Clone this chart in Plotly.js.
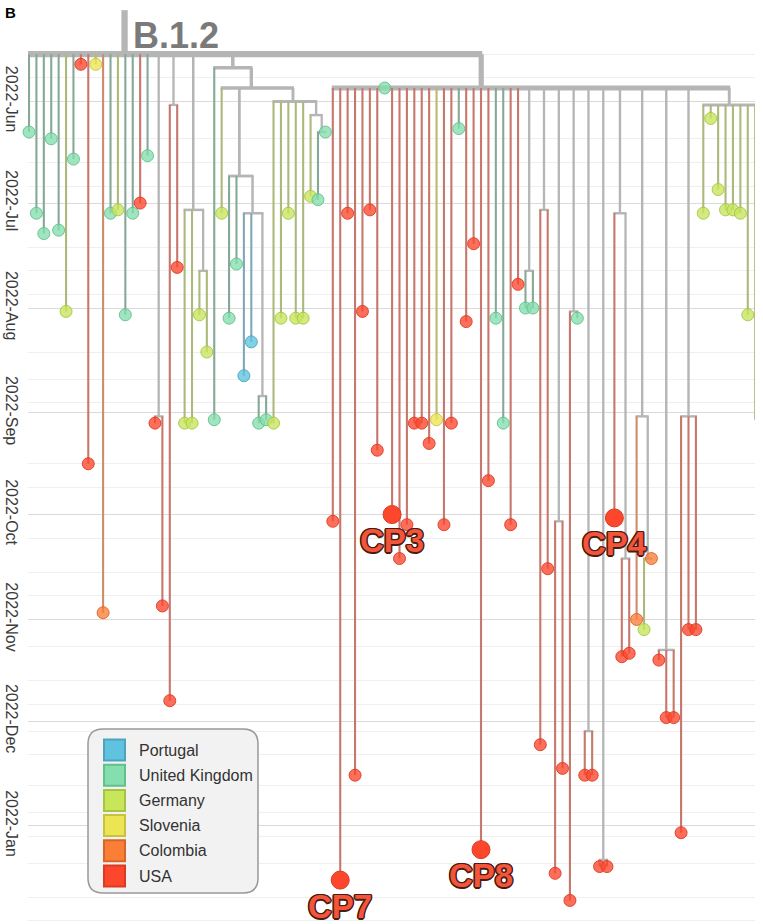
<!DOCTYPE html>
<html><head><meta charset="utf-8">
<script src="https://cdn.plot.ly/plotly-3.0.1.min.js"></script>
<style>html,body{margin:0;padding:0;background:#fff}#chart{width:763px;height:924px}</style>
</head><body><div id="chart"></div>
<script>
// ---------------- data ----------------
const countries     = ['Portugal','United Kingdom','Germany','Slovenia','Colombia','USA'];
const countryCodes  = ['PT','UK','DE','SI','CO','US'];
const countryColors = ['#5fc3df','#84dead','#c7e65a','#ece553','#fb7e37','#fc472d'];
const countryEdge   = ['#4ea3bf','#62c08c','#a6c544','#c9c23f','#d9642a','#db3a22'];
const countryBranch = ['#7fa8b8','#86a997','#abb97b','#bdb96c','#cf8b6e','#c7776b'];

const tipDates = [
 '2022-06-10','2022-07-04','2022-07-10','2022-06-12','2022-07-09','2022-08-02','2022-06-18','2022-05-21','2022-09-16','2022-05-21',
 '2022-10-30','2022-07-04','2022-07-03','2022-08-03','2022-07-04','2022-07-01','2022-06-17','2022-09-04','2022-10-28','2022-11-25',
 '2022-07-20','2022-09-04','2022-09-04','2022-08-03','2022-08-14','2022-09-03','2022-07-04','2022-08-04','2022-07-19','2022-08-21',
 '2022-08-11','2022-09-04','2022-09-03','2022-09-04','2022-08-04','2022-07-04','2022-08-04','2022-08-04','2022-06-29','2022-06-30',
 '2022-06-10','2022-10-03','2023-01-17','2022-07-04','2022-12-17','2022-08-02','2022-07-03','2022-09-12','2022-05-28','2022-10-01',
 '2022-10-14','2022-10-04','2022-09-04','2022-09-04','2022-09-10','2022-09-03','2022-10-04','2022-09-04','2022-06-09','2022-08-05',
 '2022-07-13','2023-01-08','2022-09-21','2022-08-04','2022-09-04','2022-10-04','2022-07-25','2022-08-01','2022-08-01','2022-12-08',
 '2022-10-17','2023-01-15','2022-12-15','2023-01-23','2022-08-04','2022-12-17','2022-12-17','2023-01-13','2023-01-13','2022-10-02',
 '2022-11-12','2022-11-11','2022-11-01','2022-11-04','2022-10-14','2022-11-13','2022-11-30','2022-11-30','2023-01-03','2022-11-04',
 '2022-11-04','2022-07-04','2022-06-06','2022-06-27','2022-07-03','2022-07-03','2022-07-04','2022-08-03','2022-09-03'
];
const tipCountry = [
 'UK','UK','UK','UK','UK','DE','UK','US','US','SI',
 'CO','UK','DE','UK','UK','US','UK','US','US','US',
 'US','DE','DE','DE','DE','UK','DE','UK','UK','PT',
 'PT','UK','UK','DE','DE','DE','DE','DE','DE','UK',
 'UK','US','US','US','US','US','US','US','UK','US',
 'US','US','US','US','US','SI','US','US','UK','US',
 'US','US','US','UK','UK','US','US','UK','UK','US',
 'US','US','US','US','UK','US','US','US','US','US',
 'US','US','CO','DE','CO','US','US','US','US','US',
 'US','DE','DE','DE','DE','DE','DE','DE','DE'
];

// tree topology (leaf labels = index into tip arrays)
const treeNewick = "(0,1,2,3,4,5,6,7,8,9,10,11,12,13,14,15,16,(17,18)N1,(19,20)N2,(21,22,(23,24)N4)N3," +
 "(25,(26,(27,28,(29,30,(31,32)F)E)G,(33,34,35,36,37,(38,(39,40)Bn)A)C)D)H," +
 "(41,42,43,44,45,46,47,48,49,50,51,52,53,54,55,56,57,58,59,60,61,62,63,64,65,66," +
 "(67,68)P1,(69,70)P2,(71,72)P3,(73,74)P4,(75,76)P5,(77,78)P6,(79,(80,81)P8)P7,(82,(83,84)P10)P9," +
 "(85,86,87)P11,(88,89,90)P12,(91,92,93,94,95,96,97,98)GER)K)R;";
const nodeDates = {
 R:'2022-05-18', N1:'2022-09-02', N2:'2022-06-02', N3:'2022-07-03', N4:'2022-07-21',
 H:'2022-05-22', D:'2022-05-28', G:'2022-06-23', E:'2022-07-04', F:'2022-08-27',
 C:'2022-06-01', A:'2022-06-05', Bn:'2022-06-10', K:'2022-05-28',
 P1:'2022-07-21', P2:'2022-07-03', P3:'2022-10-03', P4:'2022-08-02', P5:'2022-12-04',
 P6:'2023-01-11', P7:'2022-07-04', P8:'2022-10-14', P9:'2022-09-02', P10:'2022-10-14',
 P11:'2022-11-10', P12:'2022-09-02', GER:'2022-06-02'
};
const rootStemTop = '2022-05-05';
const cladeLabel = 'B.1.2';

const cpTips   = [49, 79, 42, 61];
const cpLabels = ['CP3','CP4','CP7','CP8'];

const monthTicks  = ['2022-06-01','2022-07-01','2022-08-01','2022-09-01','2022-10-01','2022-11-01','2022-12-01','2023-01-01'];
const monthLabels = ['2022-Jun','2022-Jul','2022-Aug','2022-Sep','2022-Oct','2022-Nov','2022-Dec','2022-Jan'];
const minorTicks  = ['2022-05-18','2022-05-25','2022-06-12','2022-06-19','2022-06-26','2022-07-14','2022-07-21','2022-07-28',
 '2022-08-14','2022-08-22','2022-08-29','2022-09-16','2022-09-23','2022-10-08','2022-10-18','2022-10-25',
 '2022-11-09','2022-11-19','2022-11-26','2022-12-04','2022-12-11','2022-12-20','2022-12-28',
 '2023-01-04','2023-01-12','2023-01-22','2023-01-29'];

// ---------------- build ----------------
function parseNewick(s){
  let i = 0;
  function node(){
    const n = {children: []};
    if (s[i] === '('){
      i++;
      n.children.push(node());
      while (s[i] === ','){ i++; n.children.push(node()); }
      i++;
    }
    let name = '';
    while (i < s.length && !',();'.includes(s[i])) name += s[i++];
    n.name = name;
    return n;
  }
  return node();
}
const root = parseNewick(treeNewick);
let leafCounter = 0;
function layout(n, parent){
  n.parent = parent;
  if (!n.children.length){
    n.tip = +n.name; n.x = leafCounter++; n.date = tipDates[n.tip];
    n.ct = countryCodes.indexOf(tipCountry[n.tip]); n.nTips = 1;
  } else {
    n.children.forEach(c => layout(c, n));
    n.x = n.children.reduce((a,c)=>a+c.x,0)/n.children.length;
    n.date = nodeDates[n.name];
    n.nTips = n.children.reduce((a,c)=>a+c.nTips,0);
  }
}
layout(root, null);
const all = [];
(function walk(n){ all.push(n); n.children.forEach(walk); })(root);

const GRAY = '#b5b5b5';
const widthOf = n => Math.round((1.6 + 0.47*Math.sqrt(n.nTips))*10)/10;
const groups = {};
function seg(color, width, x0, y0, x1, y1){
  const k = color + '|' + width;
  if (!groups[k]) groups[k] = {color, width, x: [], y: [], order: color===GRAY?0:1};
  groups[k].x.push(x0, x1, null); groups[k].y.push(y0, y1, null);
}
all.forEach(n => {
  const col = n.children.length ? GRAY : countryBranch[n.ct];
  const w = widthOf(n);
  const top = n.parent ? n.parent.date : rootStemTop;
  seg(col, w, n.x, top, n.x, n.date);
  if (n.children.length){
    const a = n.children[0], b = n.children[n.children.length-1];
    const ext = 0.14;
    seg(GRAY, w, a.x - ext, n.date, b.x + ext, n.date);
  }
});
const traces = Object.values(groups).sort((a,b)=>a.order-b.order).map(g => ({
  type:'scatter', mode:'lines', x:g.x, y:g.y, line:{color:g.color, width:g.width},
  hoverinfo:'skip', showlegend:false, cliponaxis:false
}));

function rgba(hex, a){
  const v = parseInt(hex.slice(1),16);
  return `rgba(${v>>16&255},${v>>8&255},${v&255},${a})`;
}
const tips = all.filter(n => !n.children.length);
const small = tips.filter(n => !cpTips.includes(n.tip));
traces.push({
  type:'scatter', mode:'markers', x: small.map(n=>n.x), y: small.map(n=>n.date),
  marker:{size:12, color: small.map(n=>rgba(countryColors[n.ct],0.78)),
          line:{width:1, color: small.map(n=>rgba(countryEdge[n.ct],0.9))}},
  hoverinfo:'skip', showlegend:false, cliponaxis:false
});
const cps = cpTips.map(t => tips.find(n => n.tip === t));
traces.push({
  type:'scatter', mode:'markers', x: cps.map(n=>n.x), y: cps.map(n=>n.date),
  marker:{size:18, color: cps.map(n=>countryColors[n.ct]), line:{width:1, color: cps.map(n=>countryEdge[n.ct])}},
  hoverinfo:'skip', showlegend:false, cliponaxis:false
});

// pixel geometry of the plotting area
const L = 28, R = 8, T = 0, B = 0, WIDTH = 763, HEIGHT = 924;
const PW = WIDTH - L - R, PH = HEIGHT - T - B;
const STEP = 7.41;
const xmin = -1/STEP, xmax = xmin + PW/STEP;
const px = v => (v - L)/PW, py = v => 1 - (v - T)/PH;

const FONT = 'Liberation Sans, Arial, Helvetica, sans-serif';
const annotations = [];
const shapes = [];
const outline = c => `1.5px 0 0 ${c}, -1.5px 0 0 ${c}, 0 1.5px 0 ${c}, 0 -1.5px 0 ${c}, 1px 1px 0 ${c}, -1px -1px 0 ${c}, 1px -1px 0 ${c}, -1px 1px 0 ${c}`;
cps.forEach((n,i) => annotations.push({
  x:n.x, y:n.date, xref:'x', yref:'y', text:cpLabels[i], showarrow:false,
  xanchor:'center', yanchor:'middle', yshift:-26,
  font:{family:FONT, size:33, weight:'bold', color:'#f2553a', shadow: outline('#4a1c12')}
}));
annotations.push({
  x:root.x, y:root.date, xref:'x', yref:'y', text:cladeLabel, showarrow:false,
  xanchor:'left', yanchor:'bottom', xshift:6, yshift:-4,
  font:{family:FONT, size:36, weight:'bold', color:'#7a7a7a'}
});
annotations.push({
  x:px(3), y:py(2), xref:'paper', yref:'paper', text:'B', showarrow:false,
  xanchor:'left', yanchor:'top', font:{family:FONT, size:15, weight:'bold', color:'#000'}
});

// legend box (rounded)
const bx0 = 88, bx1 = 258, by0 = 729, by1 = 893, rr = 15;
const P = (xp, yp) => `${px(xp)},${py(yp)}`;
shapes.push({
  type:'path', xref:'paper', yref:'paper',
  path:`M ${P(bx0+rr,by0)} L ${P(bx1-rr,by0)} Q ${P(bx1,by0)} ${P(bx1,by0+rr)} L ${P(bx1,by1-rr)} Q ${P(bx1,by1)} ${P(bx1-rr,by1)} L ${P(bx0+rr,by1)} Q ${P(bx0,by1)} ${P(bx0,by1-rr)} L ${P(bx0,by0+rr)} Q ${P(bx0,by0)} ${P(bx0+rr,by0)} Z`,
  fillcolor:'#f2f2f2', line:{color:'#999999', width:1.5}, layer:'above'
});
countries.forEach((c,i) => {
  const cy = 750 + i*25.2;
  shapes.push({type:'rect', xref:'paper', yref:'paper', x0:px(104), x1:px(125), y0:py(cy-10.5), y1:py(cy+10.5),
    fillcolor:countryColors[i], line:{color:countryEdge[i], width:2}, layer:'above'});
  annotations.push({x:px(137), y:py(cy), xref:'paper', yref:'paper', text:c, showarrow:false,
    xanchor:'left', yanchor:'middle', font:{family:FONT, size:16, color:'#333'}});
});

const layoutObj = {
  width:WIDTH, height:HEIGHT, margin:{l:L, r:R, t:T, b:B, pad:0},
  paper_bgcolor:'#fff', plot_bgcolor:'#fff', showlegend:false, hovermode:false,
  xaxis:{range:[xmin, xmax], showgrid:false, zeroline:false, showticklabels:false, ticks:'', showline:false, fixedrange:true},
  yaxis:{type:'date', range:['2023-01-29 23:15', '2022-05-02 00:00'], tickmode:'array', tickvals:monthTicks, ticktext:monthLabels,
    tickangle:90, ticks:'', showline:false, zeroline:false, gridcolor:'#dadada', gridwidth:1,
    tickfont:{family:FONT, size:16, color:'#3a3a3a'}, ticklabelstandoff:5,
    minor:{tickmode:'array', tickvals:minorTicks, showgrid:true, gridcolor:'#efefef', gridwidth:1, ticks:''}},
  annotations, shapes
};
Plotly.newPlot('chart', traces, layoutObj, {displayModeBar:false, staticPlot:true});
</script></body></html>
